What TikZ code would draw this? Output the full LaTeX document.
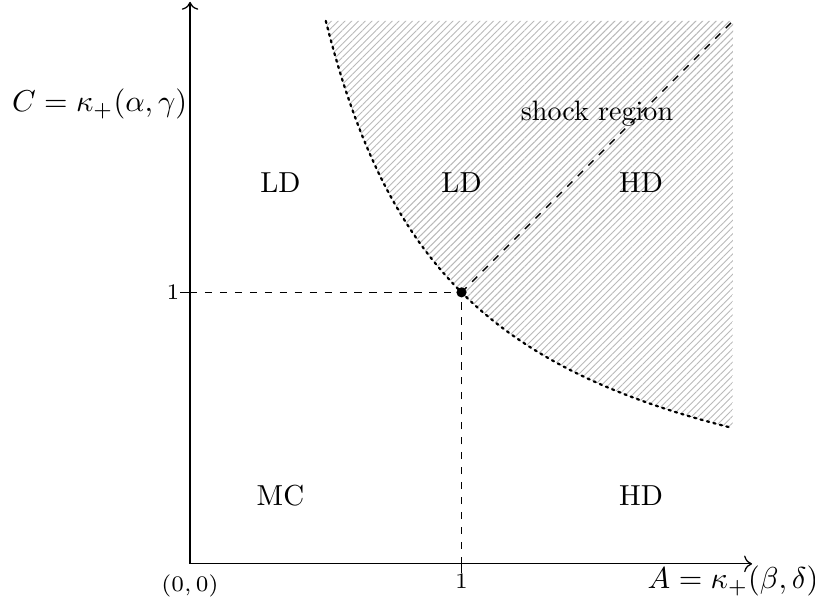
\documentclass[tikz,border=0pt]{standalone}
\usepackage{amsmath, amssymb}
\usetikzlibrary{arrows.meta, patterns.meta, positioning, calc}

\begin{document}
\begin{tikzpicture}[x=3cm, y=3cm,
  guide/.style={dash pattern=on 2.3pt off 2.4pt},
  boundary/.style={line width=0.7pt, dash pattern=on 0.7pt off 1.4pt, line cap=round},
  axislabel/.style={scale=0.95},
  phase/.style={scale=0.91},
  ticklabel/.style={font=\scriptsize}]
  \useasboundingbox (-0.70,-0.166) rectangle (2.302,2.077);

  \coordinate (O) at (0,0);
  \coordinate (Y1) at (0,1);
  \coordinate (X1) at (1,0);
  \coordinate (P) at (1,1);
  \coordinate (T) at (2,2);

  % Zone de choc : au-dessus de C = 1/A
  \fill[pattern={Lines[angle=45, distance=1.5pt, line width=0.3pt]}, pattern color=gray!55]
    plot[domain=0.5:2, samples=100] (\x, {1/\x}) -- (2,2) -- (0.5,2) -- cycle;
  \draw[boundary, domain=0.5:2, samples=100] plot(\x, {1/\x});

  % Axes
  \draw[->] (O) -- (2.07,0);
  \draw[->] (O) -- (0,2.07);
  \draw (Y1) -- ++(-3pt,0);
  \draw (X1) -- ++(0,-3pt);

  % Séparations
  \draw[guide] (Y1) -- (P);
  \draw[guide] (X1) -- (P);
  \draw[guide] (P) -- (T);
  \fill (P) circle (1.6pt);

  % Etiquettes
  \node[axislabel] (ylab) at (-0.333,1.694) {$C = \kappa_+(\alpha,\gamma)$};
  \node[axislabel] (xlab) at (2.0,-0.063) {$A = \kappa_+(\beta,\delta)$};
  \node[ticklabel] (orig) at (0,-0.08) {$(0,0)$};
  \node[ticklabel] (onex) at (1,-0.066) {$1$};
  \node[ticklabel] (oney) at (-0.063,1) {$1$};

  % Phases
  \node[phase] (ldl) at (0.333,1.404) {LD};
  \node[phase] (ldm) at (1.0,1.404) {LD};
  \node[phase] (hdt) at (1.661,1.404) {HD};
  \node[phase] (mc) at (0.333,0.252) {MC};
  \node[phase] (hdb) at (1.661,0.252) {HD};
  \node[phase, scale=0.97] (shock) at (1.499,1.657) {shock region};
\end{tikzpicture}
\end{document}
